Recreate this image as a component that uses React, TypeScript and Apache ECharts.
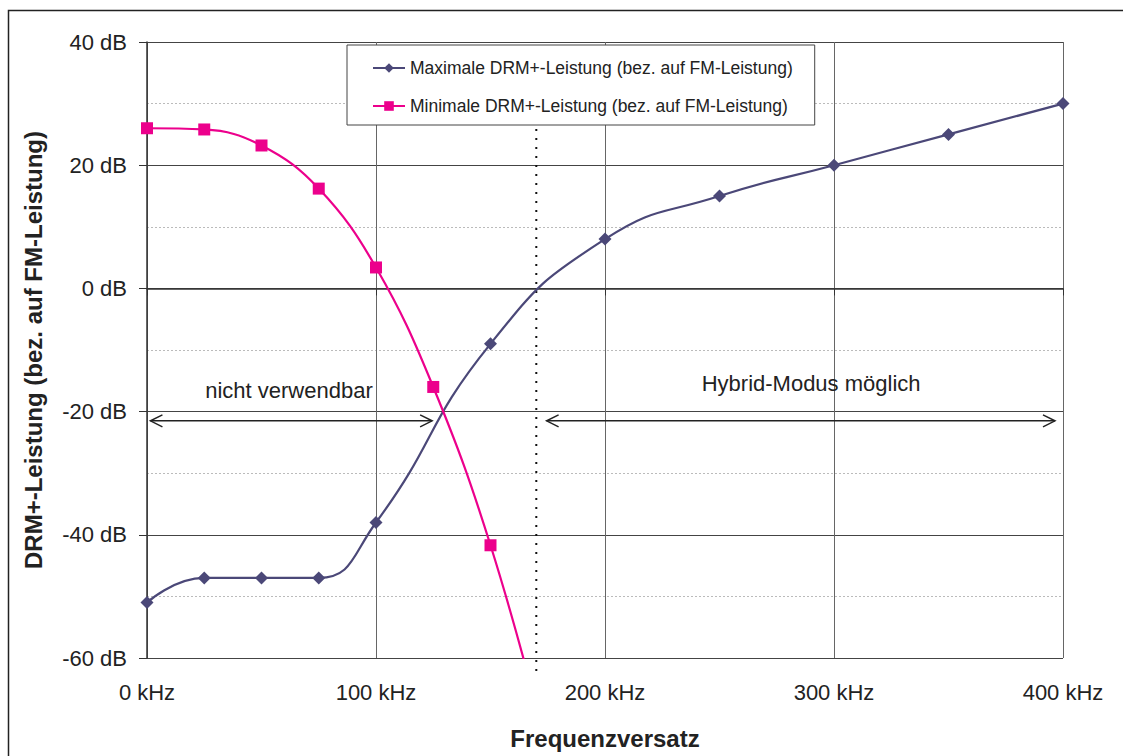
import React, { useEffect, useRef } from 'react';
import * as echarts from 'echarts';

const seriesNames = [
  'Maximale DRM+-Leistung (bez. auf FM-Leistung)',
  'Minimale DRM+-Leistung (bez. auf FM-Leistung)',
];
const freqMax = [0, 25, 50, 75, 100, 150, 200, 250, 300, 350, 400];
const powerMax = [-51, -47, -47, -47, -38, -9, 8, 15, 20, 25, 30];
const freqMin = [0, 25, 50, 75, 100, 125, 150, 175];
const powerMin = [26, 25.8, 23.2, 16.2, 3.4, -16, -41.7, -75];

const boundaryKHz = 170;
const arrowDb = -21.5;
const arrowLeft = [1.5, 124.5];
const arrowRight = [174.5, 396.5];
const labelLeft = { text: 'nicht verwendbar', f: 62, db: -16.5 };
const labelRight = { text: 'Hybrid-Modus möglich', f: 290, db: -15.4 };

const FONT = "'Liberation Sans', Arial, sans-serif";
const NAVY = '#4b4878';
const PINK = '#ec008c';
const TXT = '#222';

export default function App() {
  const ref = useRef<HTMLDivElement>(null);
  useEffect(() => {
    if (!ref.current) return;
    const chart = echarts.init(ref.current, undefined, { renderer: 'svg' });
    chart.setOption({
      animation: false,
      backgroundColor: '#fff',
      textStyle: { fontFamily: FONT },
      grid: { left: 147, top: 42, right: 60, bottom: 98, containLabel: false },
      legend: {
        data: seriesNames,
        orient: 'vertical',
        left: 347,
        top: 45,
        padding: [14, 22, 10, 25],
        itemGap: 20,
        itemWidth: 32,
        itemHeight: 12,
        backgroundColor: '#fff',
        borderColor: '#444',
        borderWidth: 1,
        z: 10,
        textStyle: { fontSize: 17.5, color: TXT, fontFamily: FONT },
      },
      xAxis: {
        type: 'value',
        min: 0,
        max: 400,
        interval: 100,
        name: 'Frequenzversatz',
        nameLocation: 'middle',
        nameGap: 68,
        nameTextStyle: { fontSize: 24, fontWeight: 'bold', color: TXT, fontFamily: FONT },
        axisLine: { show: true, lineStyle: { color: '#333', width: 1.5 } },
        axisTick: { show: true, length: 7, lineStyle: { color: '#333' } },
        axisLabel: { formatter: (v: number) => `${v} kHz`, fontSize: 22, color: TXT, margin: 23, fontFamily: FONT },
        splitLine: { show: true, lineStyle: { color: '#666', width: 1 } },
      },
      yAxis: {
        type: 'value',
        min: -60,
        max: 40,
        interval: 20,
        name: 'DRM+-Leistung (bez. auf FM-Leistung)',
        nameLocation: 'middle',
        nameGap: 102,
        nameRotate: 90,
        nameTextStyle: { fontSize: 24, fontWeight: 'bold', color: TXT, fontFamily: FONT },
        axisLine: { show: true, lineStyle: { color: '#333', width: 1.5 } },
        axisTick: { show: true, length: 8, lineStyle: { color: '#333' } },
        axisLabel: { formatter: (v: number) => `${v} dB`, fontSize: 22, color: TXT, margin: 20, fontFamily: FONT },
        splitLine: { show: true, lineStyle: { color: '#444', width: 1 } },
        minorTick: { show: false, splitNumber: 2 },
        minorSplitLine: { show: true, lineStyle: { color: '#bbb', type: [2, 2], width: 1 } },
      },
      series: [
        {
          name: seriesNames[0],
          type: 'line',
          data: freqMax.map((f, i) => [f, powerMax[i]]),
          smooth: 0.5,
          symbol: 'diamond',
          symbolSize: 13,
          lineStyle: { color: NAVY, width: 2.2 },
          itemStyle: { color: NAVY },
          z: 3,
        },
        {
          name: seriesNames[1],
          type: 'line',
          data: freqMin.map((f, i) => [f, powerMin[i]]),
          smooth: 0.4,
          symbol: 'rect',
          symbolSize: 12,
          clip: true,
          lineStyle: { color: PINK, width: 2.2 },
          itemStyle: { color: PINK },
          z: 3,
        },
      ],
    });

    const px = (f: number, db: number) => chart.convertToPixel({ gridIndex: 0 }, [f, db]) as number[];
    const top = px(boundaryKHz, 40);
    const bot = px(boundaryKHz, -60);
    const aL0 = px(arrowLeft[0], arrowDb);
    const aL1 = px(arrowLeft[1], arrowDb);
    const aR0 = px(arrowRight[0], arrowDb);
    const aR1 = px(arrowRight[1], arrowDb);
    const tL = px(labelLeft.f, labelLeft.db);
    const tR = px(labelRight.f, labelRight.db);
    const ah = 12, aw = 6;
    const arrowStyle = { stroke: '#222', lineWidth: 1.5, fill: 'none' };
    const arrow = (a: number[], b: number[]) => [
      { type: 'line', z: 5, shape: { x1: a[0], y1: a[1], x2: b[0], y2: b[1] }, style: arrowStyle },
      { type: 'polyline', z: 5, shape: { points: [[a[0] + ah, a[1] - aw], [a[0], a[1]], [a[0] + ah, a[1] + aw]] }, style: arrowStyle },
      { type: 'polyline', z: 5, shape: { points: [[b[0] - ah, b[1] - aw], [b[0], b[1]], [b[0] - ah, b[1] + aw]] }, style: arrowStyle },
    ];
    chart.setOption({
      graphic: [
        { type: 'rect', z: 0, shape: { x: 8.5, y: 10.5, width: 1130, height: 760 }, style: { stroke: '#222', lineWidth: 1.5, fill: 'none' } },
        {
          type: 'line', z: 2,
          shape: { x1: top[0], y1: top[1] + 6, x2: bot[0], y2: bot[1] + 20 },
          style: { stroke: '#111', lineWidth: 2, lineDash: [2, 7] },
        },
        ...arrow(aL0, aL1),
        ...arrow(aR0, aR1),
        { type: 'text', z: 5, x: tL[0], y: tL[1], style: { text: labelLeft.text, fill: TXT, font: `22px ${FONT}`, align: 'center', verticalAlign: 'middle' } },
        { type: 'text', z: 5, x: tR[0], y: tR[1], style: { text: labelRight.text, fill: TXT, font: `22px ${FONT}`, align: 'center', verticalAlign: 'middle' } },
      ],
    });
    return () => chart.dispose();
  }, []);
  return <div ref={ref} style={{ position: 'fixed', left: 0, top: 0, width: 1123, height: 756 }} />;
}
